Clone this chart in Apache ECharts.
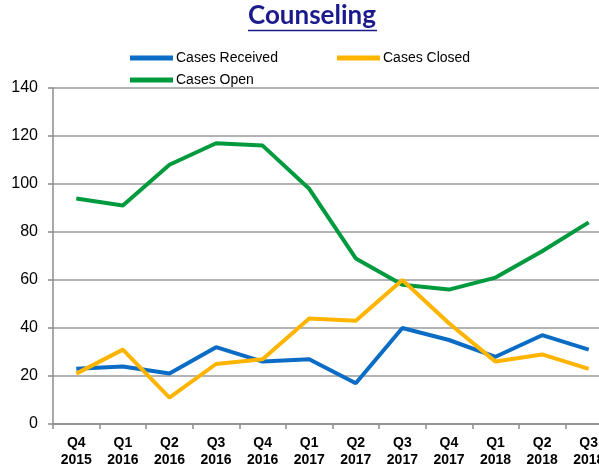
<!DOCTYPE html>
<html><head><meta charset="utf-8">
<script src="https://cdn.jsdelivr.net/npm/echarts@6/dist/echarts.min.js"></script>
<style>html,body{margin:0;padding:0;background:#fff;overflow:hidden;width:599px;height:466px}#c{width:625px;height:466px}</style>
</head><body><div id="c"></div>
<script>
const categories = ['Q4\n2015','Q1\n2016','Q2\n2016','Q3\n2016','Q4\n2016','Q1\n2017','Q2\n2017','Q3\n2017','Q4\n2017','Q1\n2018','Q2\n2018','Q3\n2018'];
const casesReceived = [23, 24, 21, 32, 26, 27, 17, 40, 35, 28, 37, 31];
const casesClosed   = [21, 31, 11, 25, 27, 44, 43, 60, 42, 26, 29, 23];
const casesOpen     = [94, 91, 108, 117, 116, 98, 69, 58, 56, 61, 72, 84];
const yMin = 0, yMax = 140, yStep = 20;

const chart = echarts.init(document.getElementById('c'), null, {renderer:'canvas'});
const lf = 'Liberation Sans, Arial, sans-serif';
function leg(name, left, top){
  return {data:[name], left:left, top:top, orient:'horizontal', itemWidth:43, itemHeight:5, itemGap:0,
    icon:'rect', textStyle:{fontFamily:lf, fontSize:14, color:'#000', padding:[0,0,0,-2]}, padding:0, selectedMode:false};
}
chart.setOption({
  animation:false,
  title:{text:'Counseling', left:248, top:3, padding:0, textStyle:{fontFamily:'Lato, DejaVu Sans, sans-serif', fontWeight:'bold', fontSize:26, color:'#1A1A8C'}},
  graphic:[{type:'line', shape:{x1:248,y1:30.5,x2:377,y2:30.5}, style:{stroke:'#1A1A8C', lineWidth:1.5}}],
  legend:[leg('Cases Received',130,51), leg('Cases Closed',337,51), leg('Cases Open',130,73)],
  grid:{left:53, top:88, width:559, height:336, containLabel:false, outerBoundsMode:'none'},
  xAxis:{type:'category', data:categories, boundaryGap:true,
    axisLine:{lineStyle:{color:'#8c8c8c', width:1.5}},
    axisTick:{show:true, length:5, alignWithLabel:false, lineStyle:{color:'#8c8c8c', width:1.5}},
    axisLabel:{interval:0, fontFamily:lf, fontWeight:'bold', fontSize:14, color:'#000', lineHeight:17, margin:11}},
  yAxis:{type:'value', min:yMin, max:yMax, interval:yStep,
    axisLine:{show:true, lineStyle:{color:'#8c8c8c', width:1.5}},
    axisTick:{show:true, length:5, lineStyle:{color:'#8c8c8c', width:1.5}},
    axisLabel:{fontFamily:lf, fontSize:16, color:'#000', margin:15},
    splitLine:{lineStyle:{color:'#9a9a9a', width:1.5}}},
  series:[
    {name:'Cases Received', type:'line', data:casesReceived, showSymbol:false, symbol:'none', lineStyle:{width:4, color:'#0A6CC4'}, itemStyle:{color:'#0A6CC4'}, z:3},
    {name:'Cases Closed', type:'line', data:casesClosed, showSymbol:false, symbol:'none', lineStyle:{width:4, color:'#FFB400'}, itemStyle:{color:'#FFB400'}, z:4},
    {name:'Cases Open', type:'line', data:casesOpen, showSymbol:false, symbol:'none', lineStyle:{width:4, color:'#009A3E'}, itemStyle:{color:'#009A3E'}, z:2}
  ]
});
</script></body></html>
